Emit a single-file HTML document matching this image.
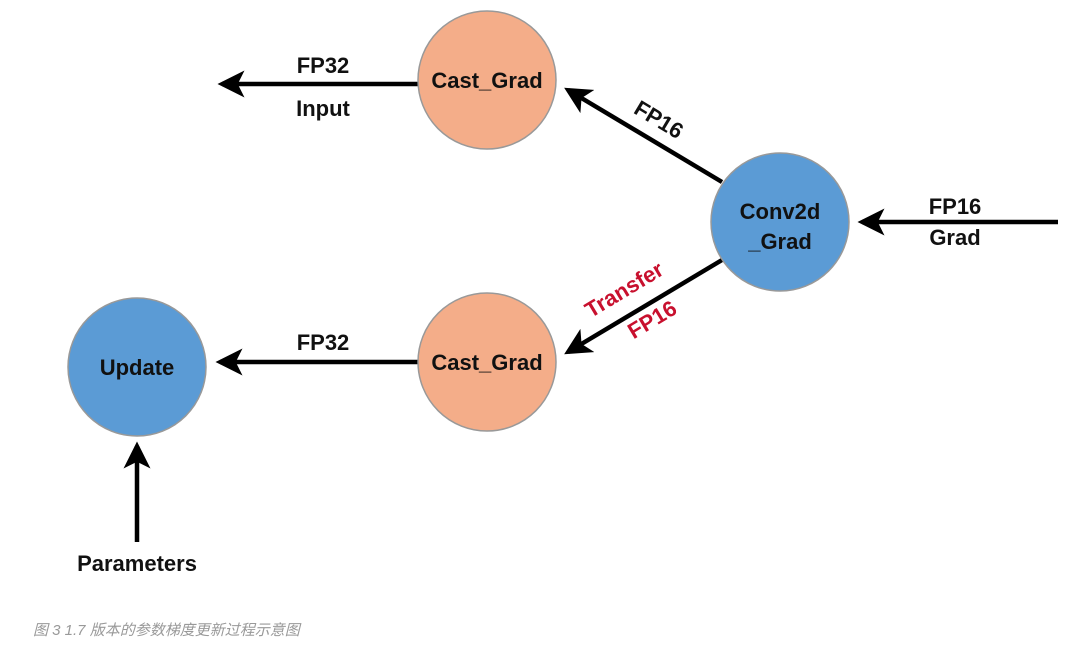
<!DOCTYPE html>
<html><head><meta charset="utf-8"><style>
body{margin:0;background:#fff;width:1080px;height:654px;overflow:hidden}
svg{display:block}
text{font-family:"Liberation Sans",sans-serif;font-weight:bold;font-size:22px;fill:#111}
.cap{position:absolute;left:33px;top:619px;font-family:"Liberation Sans","Noto Sans CJK SC",sans-serif;font-style:italic;font-size:15px;color:#999}
</style></head><body>
<svg width="1080" height="654" viewBox="0 0 1080 654">
<defs><marker id="a" markerWidth="6" markerHeight="6" refX="5" refY="3" orient="auto" markerUnits="strokeWidth"><path d="M0,0 L6,3 L0,6 L1.5,3Z" fill="#000"/></marker></defs>
<g stroke="#000" stroke-width="4.5" fill="none" marker-end="url(#a)">
<line x1="418" y1="84" x2="222" y2="84"/>
<line x1="1058" y1="222" x2="862" y2="222"/>
<line x1="418" y1="362" x2="220" y2="362"/>
<line x1="137" y1="542" x2="137" y2="446"/>
<line x1="722" y1="182" x2="568" y2="90"/>
<line x1="722" y1="260" x2="568" y2="352"/>
</g>
<g stroke="#999" stroke-width="1.5">
<circle cx="487" cy="80" r="69" fill="#F4AD89"/>
<circle cx="487" cy="362" r="69" fill="#F4AD89"/>
<circle cx="780" cy="222" r="69" fill="#5B9BD5"/>
<circle cx="137" cy="367" r="69" fill="#5B9BD5"/>
</g>
<g text-anchor="middle">
<text x="487" y="88">Cast_Grad</text>
<text x="487" y="370">Cast_Grad</text>
<text x="780" y="219">Conv2d</text>
<text x="780" y="249">_Grad</text>
<text x="137" y="375">Update</text>
<text x="323" y="73">FP32</text>
<text x="323" y="116">Input</text>
<text x="323" y="350">FP32</text>
<text x="955" y="214">FP16</text>
<text x="955" y="245">Grad</text>
<text x="137" y="571">Parameters</text>
<text transform="translate(655,126) rotate(31)">FP16</text>
<text transform="translate(628,296) rotate(-31)" style="fill:#C8102E">Transfer</text>
<text transform="translate(656,326) rotate(-31)" style="fill:#C8102E">FP16</text>
</g>
</svg>
<div class="cap">图 3 1.7 版本的参数梯度更新过程示意图</div>
</body></html>
